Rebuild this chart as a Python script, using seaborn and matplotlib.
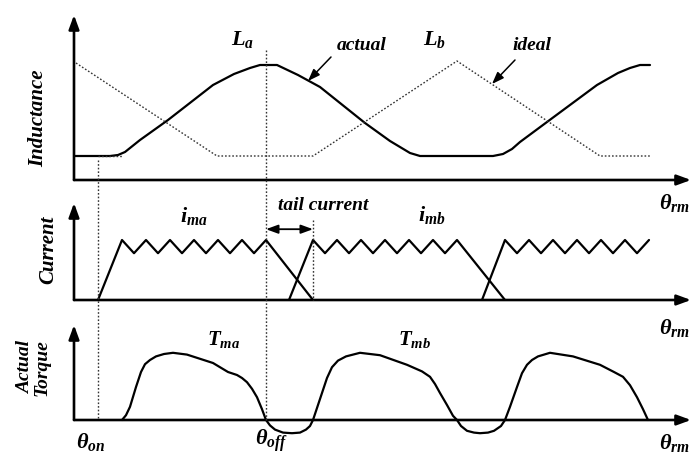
import matplotlib
matplotlib.use("Agg")
import matplotlib.pyplot as plt
import pandas as pd
import seaborn as sns
from matplotlib.lines import Line2D
from matplotlib.transforms import blended_transform_factory

# ---- rotor angle values (deg) ----
theta_on = 12.0
theta_off = 96.0
theta_tail_end = 119.5
theta_max = 308.5

# ---- inductance profiles (p.u.) ----
actual_theta = [0, 18, 22, 25.5, 33, 47, 69.5, 80, 88, 93, 101.5, 112, 123, 145.5,
                158, 163, 168, 173, 209.5, 214.5, 219, 223, 236.5, 261.5, 272, 278,
                283, 288]
actual_L = [0.24, 0.24, 0.25, 0.28, 0.40, 0.60, 0.95, 1.06, 1.12, 1.15, 1.15, 1.05,
            0.93, 0.57, 0.39, 0.33, 0.27, 0.24, 0.24, 0.26, 0.31, 0.38, 0.58, 0.95,
            1.07, 1.12, 1.15, 1.15]

ideal_a_theta = [1, 71.5, 119.5, 191.5, 263, 288]
ideal_a_L = [1.17, 0.24, 0.24, 1.19, 0.24, 0.24]
ideal_stub_theta = [12, 24.5]
ideal_stub_L = [0.24, 0.24]

# ---- phase currents with hysteresis chopping (p.u.) ----
ima_theta = [12, 24, 30, 36, 42, 48, 54, 60, 66, 72, 78, 84, 90, 96, 119.5]
ima_I = [0, 1, 0.78, 1, 0.78, 1, 0.78, 1, 0.78, 1, 0.78, 1, 0.78, 1, 0]
imb_theta = [107.5, 119.5, 125.5, 131.5, 137.5, 143.5, 149.5, 155.5, 161.5, 167.5,
             173.5, 179.5, 185.5, 191.5, 215.5]
imb_I = [0, 1, 0.78, 1, 0.78, 1, 0.78, 1, 0.78, 1, 0.78, 1, 0.78, 1, 0]
imc_theta = [204, 215.5, 221.5, 227.5, 233.5, 239.5, 245.5, 251.5, 257.5, 263.5,
             269.5, 275.5, 281.5, 287.5]
imc_I = [0, 1, 0.78, 1, 0.78, 1, 0.78, 1, 0.78, 1, 0.78, 1, 0.78, 1]

# ---- resulting torque (p.u.) ----
torque_theta = [24, 26, 28, 31, 33.5, 35.5, 38, 41, 45, 49.5, 56.5, 69.5, 77, 81.5,
                84, 86.5, 89, 91.5, 94, 96,
                98, 100.5, 104.5, 109, 113, 116, 118, 119.5,
                121.5, 124, 126.5, 129, 132, 136, 143, 153, 166.5, 174, 178, 180.5,
                183, 186.5, 189.5, 191.5,
                193.5, 196.5, 200, 203, 207, 210, 213.5, 215.5,
                218, 221.5, 224, 226.5, 229, 232, 238, 249.5, 263, 270, 274.5, 278,
                281.5, 284.5, 287]
torque_T = [0, 0.08, 0.22, 0.55, 0.8, 0.93, 1.0, 1.06, 1.1, 1.12, 1.09, 0.95, 0.8,
            0.75, 0.7, 0.63, 0.52, 0.38, 0.18, 0,
            -0.09, -0.16, -0.21, -0.22, -0.21, -0.16, -0.1, 0,
            0.2, 0.45, 0.7, 0.88, 0.99, 1.06, 1.12, 1.08, 0.92, 0.81, 0.72, 0.6,
            0.45, 0.25, 0.07, 0,
            -0.1, -0.18, -0.21, -0.22, -0.21, -0.18, -0.1, 0,
            0.22, 0.55, 0.78, 0.92, 1.0, 1.06, 1.12, 1.06, 0.92, 0.8, 0.72, 0.58,
            0.38, 0.18, 0]

sns.set_theme(style="white")
plt.rcParams["font.family"] = ["Liberation Serif", "DejaVu Serif"]
plt.rcParams["mathtext.fontset"] = "custom"
plt.rcParams["mathtext.it"] = "Liberation Serif:bold:italic"
plt.rcParams["mathtext.rm"] = "Liberation Serif:bold:italic"
plt.rcParams["mathtext.bf"] = "Liberation Serif:bold:italic"

W, H = 691, 457
fig = plt.figure(figsize=(W / 100, H / 100), dpi=100)
fig.patch.set_facecolor("white")


def box(left, top, right, bottom):
    return [left / W, 1 - bottom / H, (right - left) / W, (bottom - top) / H]


ax_L = fig.add_axes(box(74, 15, 691, 180))
ax_I = fig.add_axes(box(74, 203, 691, 300))
ax_T = fig.add_axes(box(74, 325, 691, 440))
ax_L.set_ylim(0, 1.65)
ax_I.set_ylim(0, 97 / 60)
ax_T.set_ylim(-20 / 60, 95 / 60)

AXIS_LW = 1.9
head = "-|>,head_length=0.6,head_width=0.22"
for ax in (ax_L, ax_I, ax_T):
    ax.set_xlim(0, theta_max)
    ax.axis("off")
    top = ax.get_ylim()[1]
    ax.annotate("", xy=(theta_max, 0), xytext=(0, 0), annotation_clip=False,
                arrowprops=dict(arrowstyle=head, color="black", lw=AXIS_LW,
                                mutation_scale=14, shrinkA=0, shrinkB=0))
    ax.annotate("", xy=(0, top), xytext=(0, 0), annotation_clip=False,
                arrowprops=dict(arrowstyle=head, color="black", lw=AXIS_LW,
                                mutation_scale=14, shrinkA=0, shrinkB=0))

solid = dict(color="black", lw=1.6, sort=False, estimator=None, legend=False)
dotted = dict(color="#333333", lw=1.0, sort=False, estimator=None, legend=False,
              linestyle=(0, (1.2, 1.4)))

# inductance
sns.lineplot(data=pd.DataFrame({"theta": actual_theta, "L": actual_L}),
             x="theta", y="L", ax=ax_L, **solid)
sns.lineplot(data=pd.DataFrame({"theta": ideal_a_theta, "L": ideal_a_L}),
             x="theta", y="L", ax=ax_L, **dotted)
sns.lineplot(data=pd.DataFrame({"theta": ideal_stub_theta, "L": ideal_stub_L}),
             x="theta", y="L", ax=ax_L, **dotted)

# currents
for th, cur in ((ima_theta, ima_I), (imb_theta, imb_I), (imc_theta, imc_I)):
    sns.lineplot(data=pd.DataFrame({"theta": th, "I": cur}), x="theta", y="I",
                 ax=ax_I, **solid)

# torque
sns.lineplot(data=pd.DataFrame({"theta": torque_theta, "T": torque_T}),
             x="theta", y="T", ax=ax_T, **solid)

for ax in (ax_L, ax_I, ax_T):
    ax.set_xlabel("")
    ax.set_ylabel("")

# turn-on / turn-off guides across the panels
trans = blended_transform_factory(ax_L.transData, fig.transFigure)
for th, y0, y1 in ((theta_on, 160, 420), (theta_off, 50, 420)):
    fig.add_artist(Line2D([th, th], [1 - y0 / H, 1 - y1 / H], transform=trans,
                          color="#333333", lw=1.0, linestyle=(0, (1.2, 1.4))))
trans_I = blended_transform_factory(ax_I.transData, fig.transFigure)
fig.add_artist(Line2D([theta_tail_end, theta_tail_end], [1 - 220 / H, 1 - 300 / H],
                      transform=trans_I, color="#333333", lw=1.0,
                      linestyle=(0, (1.2, 1.4))))

# tail current span
ax_I.annotate("", xy=(theta_tail_end, 1.18), xytext=(theta_off, 1.18),
              annotation_clip=False,
              arrowprops=dict(arrowstyle="<|-|>,head_length=0.6,head_width=0.22",
                              color="black", lw=1.3, mutation_scale=12,
                              shrinkA=0, shrinkB=0))

# pointers to the curves
pointer = dict(arrowstyle="-|>,head_length=0.6,head_width=0.22", color="black",
               lw=1.1, mutation_scale=12, shrinkA=0, shrinkB=0)
ax_L.annotate("", xy=(117, 0.99), xytext=(128.5, 1.23), annotation_clip=False,
              arrowprops=pointer)
ax_L.annotate("", xy=(209, 0.96), xytext=(220.5, 1.20), annotation_clip=False,
              arrowprops=pointer)


def label(x, y, s, size=14, **kw):
    fig.text(x / W, 1 - y / H, s, ha="center", va="center", fontsize=size,
             fontstyle="italic", fontweight="bold", color="black", **kw)


label(38, 118, "Inductance", 15, rotation=90)
label(48, 250, "Current", 15, rotation=90)
label(34, 368, "Actual\nTorque", 14, rotation=90, linespacing=0.95)

label(243, 40, r"$L_a$", 16)
label(435, 40, r"$L_b$", 16)
label(362, 46, "actual", 14)
label(532, 46, "ideal", 14)
label(323, 205, "tail current", 14)
label(194, 216, r"$i_{ma}$", 16)
label(432, 215, r"$i_{mb}$", 16)
label(224, 340, r"$T_{ma}$", 15)
label(414, 339, r"$T_{mb}$", 15)
for yy in (203, 328, 443):
    label(674, yy, r"$\theta_{rm}$", 16)
label(91, 442, r"$\theta_{on}$", 16)
label(271, 441, r"$\theta_{off}$", 16)

fig.savefig("out.png", dpi=100, facecolor="white")
